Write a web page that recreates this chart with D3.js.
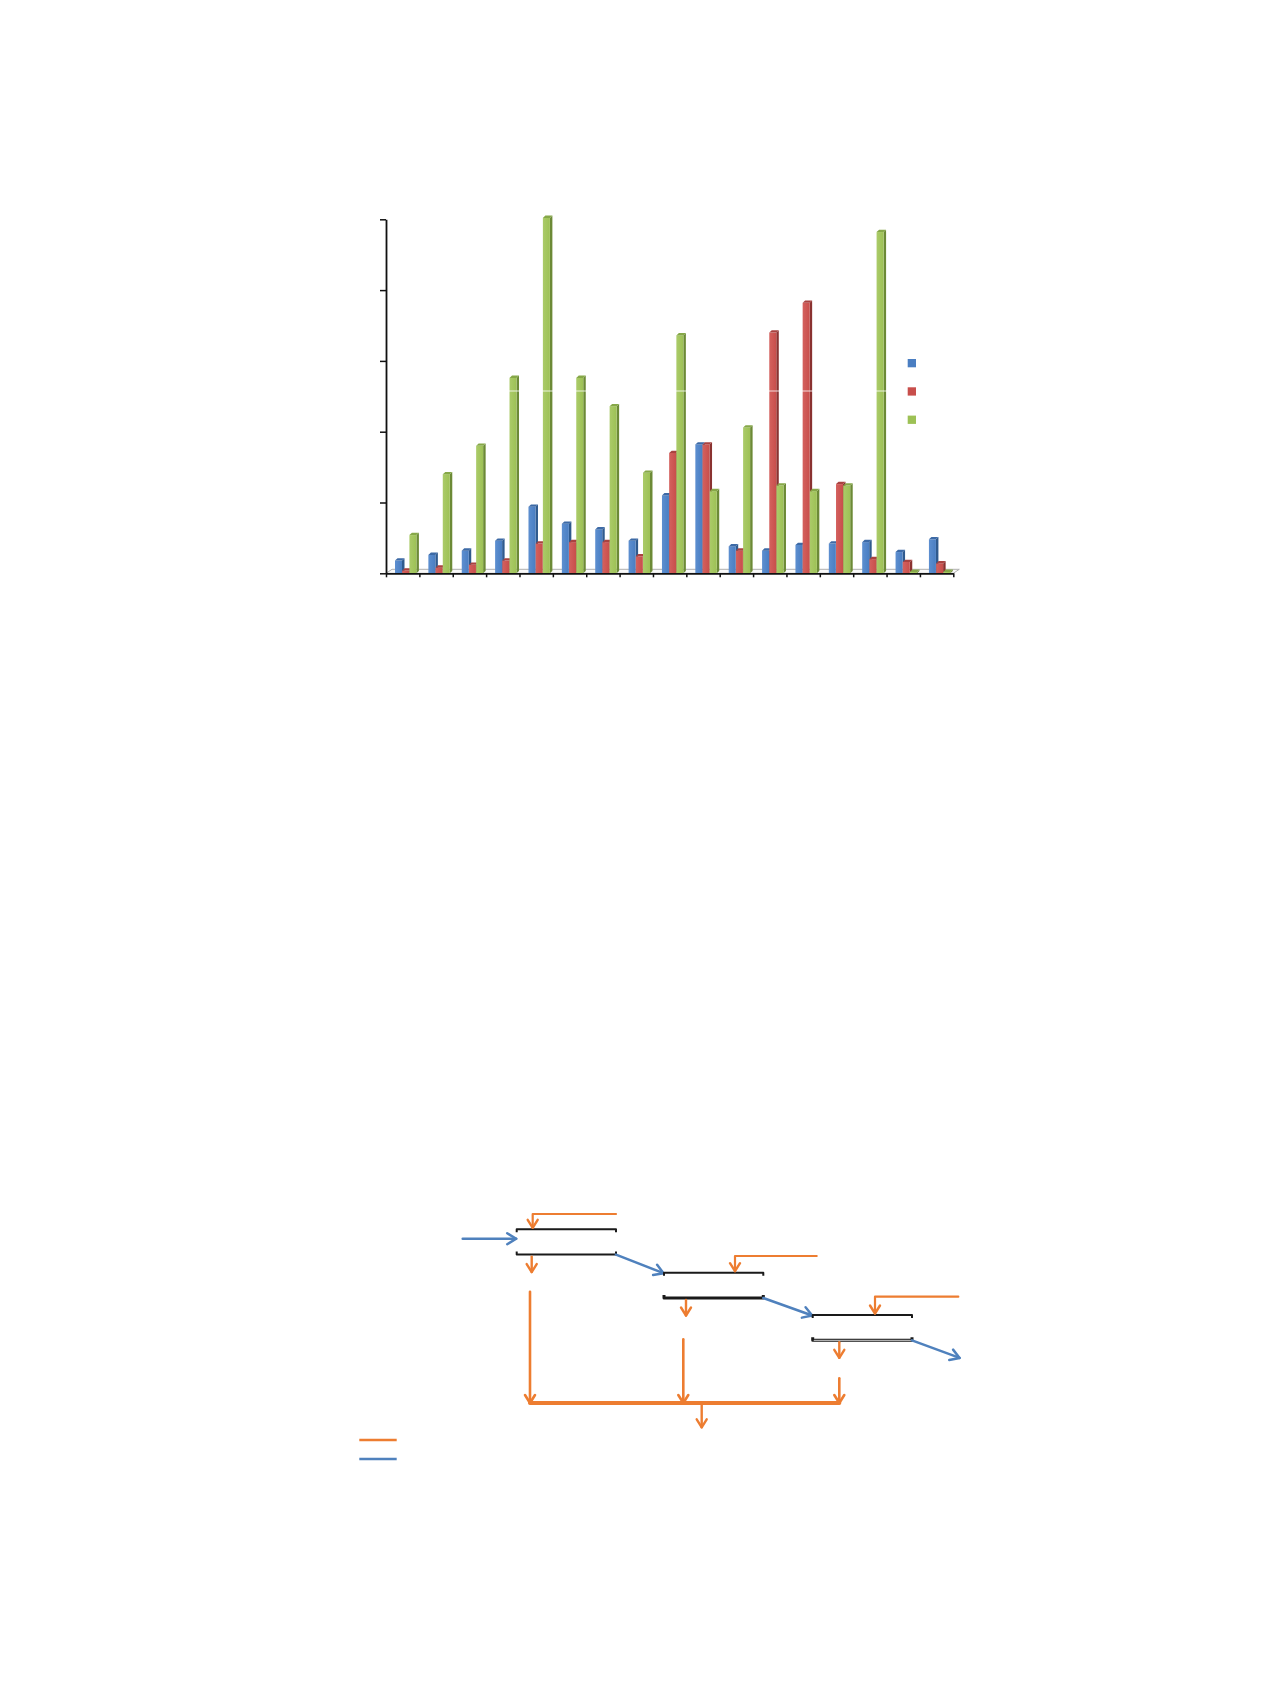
<!DOCTYPE html>
<html>
<head>
<meta charset="utf-8">
<script src="https://cdn.jsdelivr.net/npm/d3@7"></script>
<style>
  body { margin: 0; background: #fff; }
  svg { display: block; }
</style>
</head>
<body>
<div id="chart"></div>
<script>
// ---- chart data ----
const categories = ["1","2","3","4","5","6","7","8","9","10","11","12","13","14","15","16","17"];
const seriesNames = ["Series 1", "Series 2", "Series 3"];
const blueValues  = [9, 13, 16, 23, 47, 35, 31, 23, 55, 91, 19, 16, 20, 21, 22, 15, 24];
const redValues   = [2, 4, 6, 9, 21, 22, 22, 12, 85, 91, 16, 170, 191, 63, 10, 8, 7];
const greenValues = [27, 70, 90, 138, 251, 138, 118, 71, 168, 58, 103, 62, 58, 62, 241, 1, 1];
const yTicks = [0, 50, 100, 150, 200, 250];

const seriesColors = [
  { base: "#4A7EC2", light: "#5d8fd0", side: "#2f5a8e", top: "#3d6aa6" },
  { base: "#C84E4B", light: "#d4615e", side: "#8a3230", top: "#a94240" },
  { base: "#9DC155", light: "#abcb69", side: "#6c8a36", top: "#86a848" }
];

// ---- process diagram (three stages) ----
const stageLeft   = [516.7, 664, 812.7];
const stageTop    = [1229.3, 1272.7, 1315];
const stageWidth  = 99.3;
const stageHeight = 25.3;
const feedX       = [532.7, 735, 875];
const feedEndX    = [616, 816.7, 958.3];
const feedY       = [1214, 1256, 1296.7];
const dropX       = [531.7, 686, 839.3];
const longTopY    = [1291.7, 1339.3, 1378.3];
const longX       = [530, 683.3, 839.3];
const collectY    = 1403;
const outX        = 701.7;

const orange = "#ED7D31";
const blue = "#4F81BD";

const W = 1270, H = 1683;
const svg = d3.select("#chart").append("svg")
  .attr("width", W)
  .attr("height", H);

svg.append("rect").attr("width", W).attr("height", H).attr("fill", "#fff");

const defs = svg.append("defs");
seriesColors.forEach((c, i) => {
  const g = defs.append("linearGradient").attr("id", "grad" + i)
    .attr("x1", "0%").attr("x2", "100%").attr("y1", "0%").attr("y2", "0%");
  g.append("stop").attr("offset", "0%").attr("stop-color", c.light);
  g.append("stop").attr("offset", "100%").attr("stop-color", c.base);
});

// ---- scales ----
const x = d3.scaleLinear().domain([0, categories.length]).range([386, 953.3]);
const y = d3.scaleLinear().domain([0, 250]).range([573.3, 219.3]);

// floor of the 3d plot
const fdx = 6, fdy = -4;
svg.append("polygon")
  .attr("points", [
    [x(0), y(0)], [x(categories.length), y(0)],
    [x(categories.length) + fdx, y(0) + fdy], [x(0) + fdx, y(0) + fdy]
  ].map(p => p.join(",")).join(" "))
  .attr("fill", "#fafafa")
  .attr("stroke", "#b0b0b0")
  .attr("stroke-width", 1);

// ---- bars ----
const allSeries = [blueValues, redValues, greenValues];
const barW = 7, barStep = 7.2, barOffset = 9;
const bdx = 2.5, bdy = -2.3;

const barData = [];
categories.forEach((c, i) => {
  allSeries.forEach((vals, s) => {
    barData.push({ cat: i, s: s, v: vals[i] });
  });
});

const bars = svg.append("g").attr("class", "bars")
  .selectAll("g")
  .data(barData)
  .enter().append("g");

bars.append("polygon")
  .attr("points", d => {
    const x0 = x(d.cat) + barOffset + d.s * barStep + barW;
    const y0 = y(d.v), yb = y(0);
    return [[x0, y0], [x0 + bdx, y0 + bdy], [x0 + bdx, yb + bdy], [x0, yb]].map(p => p.join(",")).join(" ");
  })
  .attr("fill", d => seriesColors[d.s].side);

bars.append("rect")
  .attr("x", d => x(d.cat) + barOffset + d.s * barStep)
  .attr("y", d => y(d.v))
  .attr("width", barW)
  .attr("height", d => y(0) - y(d.v))
  .attr("fill", d => "url(#grad" + d.s + ")");

bars.append("polygon")
  .attr("points", d => {
    const x0 = x(d.cat) + barOffset + d.s * barStep;
    const y0 = y(d.v);
    return [[x0, y0], [x0 + bdx, y0 + bdy], [x0 + barW + bdx, y0 + bdy], [x0 + barW, y0]].map(p => p.join(",")).join(" ");
  })
  .attr("fill", d => seriesColors[d.s].top);

// faint scan line crossing the plot
svg.append("line")
  .attr("x1", 380).attr("x2", 962)
  .attr("y1", 391).attr("y2", 391)
  .attr("stroke", "#fff").attr("stroke-opacity", 0.8).attr("stroke-width", 1);

// ---- axes ----
const yAxis = svg.append("g")
  .attr("transform", "translate(" + x(0) + ",0)")
  .call(d3.axisLeft(y).tickValues(yTicks).tickFormat("").tickSize(6).tickSizeOuter(0));
yAxis.select(".domain").attr("stroke", "#111").attr("stroke-width", 1.8);
yAxis.selectAll(".tick line").attr("stroke", "#111").attr("stroke-width", 1.5);

const xAxis = svg.append("g")
  .attr("transform", "translate(0," + y(0) + ")")
  .call(d3.axisBottom(x).tickValues(d3.range(0, categories.length + 1)).tickFormat("").tickSize(4).tickSizeOuter(0));
xAxis.select(".domain").attr("stroke", "#111").attr("stroke-width", 1.8);
xAxis.selectAll(".tick line").attr("stroke", "#111").attr("stroke-width", 1.5);

// ---- legend ----
const legend = svg.append("g").attr("class", "legend");
seriesNames.forEach((name, i) => {
  legend.append("rect")
    .attr("x", 907.7)
    .attr("y", 359 + i * 28.3)
    .attr("width", 8.3)
    .attr("height", 8.3)
    .attr("fill", seriesColors[i].base);
});

// ---- process diagram ----
const dg = svg.append("g").attr("class", "diagram")
  .attr("fill", "none")
  .attr("stroke-linecap", "round")
  .attr("stroke-linejoin", "round");

function arrowHead(g, tx, ty, angle, color, len, half, sw) {
  const ca = Math.cos(angle), sa = Math.sin(angle);
  const bx = tx - len * ca, by = ty - len * sa;
  const p1 = [bx - half * sa, by + half * ca];
  const p2 = [bx + half * sa, by - half * ca];
  g.append("path")
    .attr("d", "M" + p1 + "L" + [tx, ty] + "L" + p2)
    .attr("stroke", color)
    .attr("stroke-width", sw);
}

function arrow(g, x1, y1, x2, y2, color, sw, len, half) {
  g.append("line")
    .attr("x1", x1).attr("y1", y1).attr("x2", x2).attr("y2", y2)
    .attr("stroke", color).attr("stroke-width", sw);
  arrowHead(g, x2, y2, Math.atan2(y2 - y1, x2 - x1), color, len || 8, half || 5, sw);
}

stageLeft.forEach((left, i) => {
  const right = left + stageWidth;
  const top = stageTop[i], bottom = top + stageHeight;

  // bracket lines of the stage
  dg.append("path")
    .attr("d", "M" + [left, top + 3] + "L" + [left, top] + "L" + [right, top] + "L" + [right, top + 3])
    .attr("stroke", "#1a1a1a").attr("stroke-width", 2).attr("stroke-linecap", "butt");
  dg.append("path")
    .attr("d", "M" + [left, bottom - 3] + "L" + [left, bottom] + "L" + [right, bottom] + "L" + [right, bottom - 3])
    .attr("stroke", "#1a1a1a").attr("stroke-width", i === 0 ? 2 : 3).attr("stroke-linecap", "butt");
  if (i === 2) {
    dg.append("line")
      .attr("x1", left + 1.5).attr("x2", right - 1.5)
      .attr("y1", bottom).attr("y2", bottom)
      .attr("stroke", "#b0b0b0").attr("stroke-width", 1.2);
  }

  // orange feed from the right
  dg.append("path")
    .attr("d", "M" + [feedEndX[i], feedY[i]] + "L" + [feedX[i], feedY[i]] + "L" + [feedX[i], top - 1.5])
    .attr("stroke", orange).attr("stroke-width", 2.2);
  arrowHead(dg, feedX[i], top - 1.5, Math.PI / 2, orange, 8, 5, 2.4);

  // short orange drop under the stage
  arrow(dg, dropX[i], bottom + 2, dropX[i], bottom + 17.5, orange, 2.4);

  // long orange line to the collector
  arrow(dg, longX[i], longTopY[i], longX[i], collectY, orange, 2.6);

  // blue flow to the next stage
  const nx = i < 2 ? stageLeft[i + 1] - 0.5 : right + 47.6;
  const ny = i < 2 ? stageTop[i + 1] + 0.5 : bottom + 17.6;
  arrow(dg, right, bottom, nx, ny, blue, 2.5, 9, 5.5);
});

// blue inlet to first stage
arrow(dg, 462.7, 1238.7, stageLeft[0] - 0.5, 1238.7, blue, 2.5, 9, 5.5);

// collector line and outlet
dg.append("line")
  .attr("x1", longX[0]).attr("x2", longX[2])
  .attr("y1", collectY).attr("y2", collectY)
  .attr("stroke", orange).attr("stroke-width", 4);
arrow(dg, outX, collectY, outX, collectY + 24.3, orange, 2.4);

// key lines
[orange, blue].forEach((c, i) => {
  dg.append("line")
    .attr("x1", 359.3).attr("x2", 396.7)
    .attr("y1", 1440 + i * 19).attr("y2", 1440 + i * 19)
    .attr("stroke", c).attr("stroke-width", 2.5).attr("stroke-linecap", "butt");
});
</script>
</body>
</html>
